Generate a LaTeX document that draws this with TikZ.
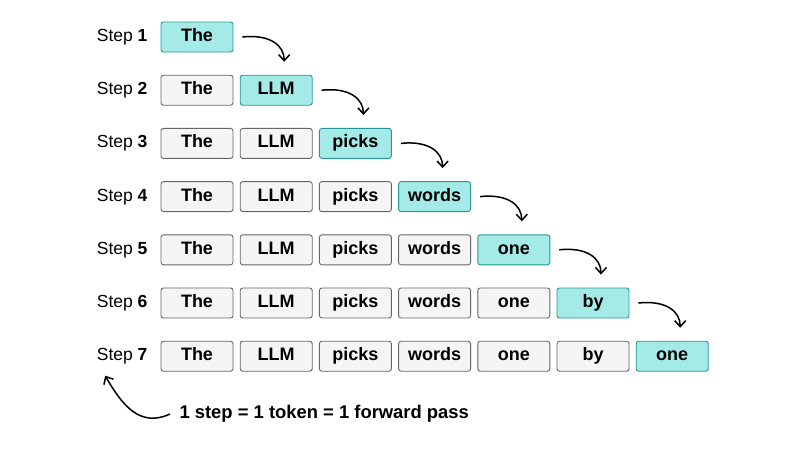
\documentclass[tikz,border=0pt]{standalone}
\usepackage{fontspec}
\setmainfont{Liberation Sans}
\usetikzlibrary{arrows.meta}
\definecolor{curfill}{RGB}{164,234,230}
\definecolor{curdraw}{RGB}{40,150,150}
\begin{document}
\begin{tikzpicture}[x=1pt,y=-1pt,
  tok/.style={draw=black!60,line width=0.9pt,rounded corners=2.5pt,fill=black!4,minimum width=72pt,minimum height=30pt,inner sep=0pt,text height=12.5pt,text depth=3.5pt,font=\fontsize{18}{20}\selectfont\bfseries},
  cur/.style={tok,fill=curfill,draw=curdraw},
  lbl/.style={anchor=east,text height=12.5pt,text depth=3.5pt,font=\fontsize{17.5}{20}\selectfont},
  arr/.style={line width=1.5pt,-{Straight Barb[length=6pt,width=11pt]}}]
\useasboundingbox (0,0) rectangle (800,450);
\def\words{{"The","LLM","picks","words","one","by","one"}}
\foreach \r in {1,...,7}{
  \pgfmathsetmacro{\yy}{37+(\r-1)*53.2}
  \node[lbl] (s\r) at (151,\yy) {Step \textbf{\r}};
  \foreach \c in {1,...,\r}{
    \pgfmathsetmacro{\xx}{197+(\c-1)*79.2}
    \pgfmathsetmacro{\w}{\words[\c-1]}
    \ifnum\c=\r
      \node[cur] (b\r-\c) at (\xx,\yy) {\w};
    \else
      \node[tok] (b\r-\c) at (\xx,\yy) {\w};
    \fi
  }
}
\foreach \r [evaluate=\r as \n using int(\r+1)] in {1,...,6}{
  \coordinate (p\r) at ([xshift=9pt]b\r-\r.east);
  \coordinate (q\r) at ([xshift=8pt,yshift=13pt]b\n-\n.north);
  \draw[arr] (p\r) .. controls +(28,-3) and +(0,-16) .. (q\r);
}
\node[font=\fontsize{18.4}{20}\selectfont\bfseries,anchor=west] (note) at (176,414) {1 step = 1 token = 1 forward pass};
\coordinate (t7) at ([xshift=-17pt,yshift=-8pt]s7.south);
\draw[arr] ([xshift=-6pt]note.west) .. controls (140,428) and (122,405) .. (t7);
\end{tikzpicture}
\end{document}
